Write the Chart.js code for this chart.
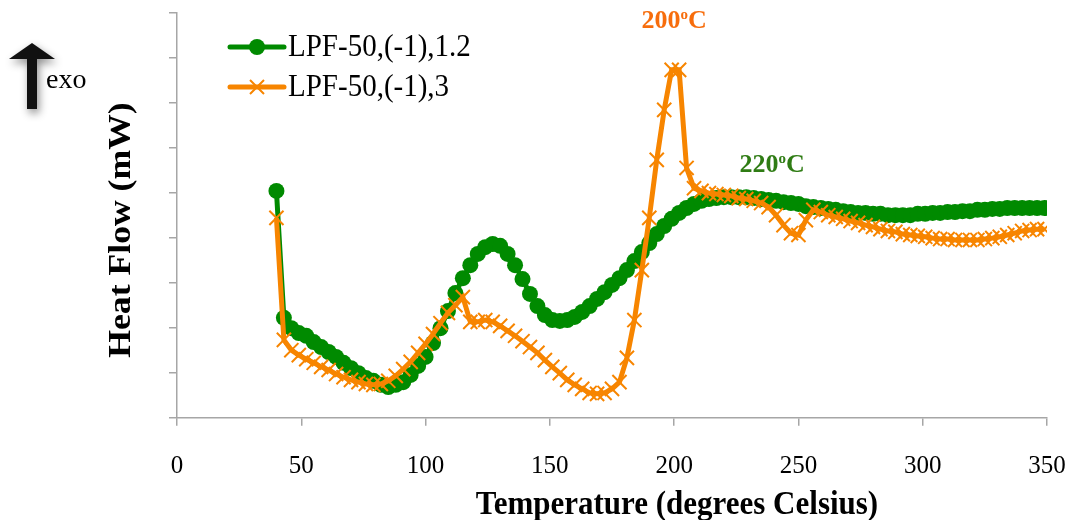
<!DOCTYPE html>
<html>
<head>
<meta charset="utf-8">
<script src="https://cdn.jsdelivr.net/npm/chart.js@4.4.1/dist/chart.umd.min.js"></script>
<style>
  html, body { margin: 0; padding: 0; background: #ffffff; }
  #wrap { width: 1070px; height: 520px; }
</style>
</head>
<body>
<div id="wrap"><canvas id="dsc" width="1070" height="520"></canvas></div>
<script>
// temperature (degrees Celsius)
const temps = [40, 43, 46, 49, 52, 55, 58, 61, 64, 67, 70, 73, 76, 79, 82, 85, 88, 91, 94, 97,
  100, 103, 106, 109, 112, 115, 118, 121, 124, 127, 130, 133, 136, 139, 142, 145, 148, 151, 154, 157,
  160, 163, 166, 169, 172, 175, 178, 181, 184, 187, 190, 193, 196, 199, 202, 205, 208, 211, 214, 217,
  220, 223, 226, 229, 232, 235, 238, 241, 244, 247, 250, 253, 256, 259, 262, 265, 268, 271, 274, 277,
  280, 283, 286, 289, 292, 295, 298, 301, 304, 307, 310, 313, 316, 319, 322, 325, 328, 331, 334, 337,
  340, 343, 346, 349];

// heat flow, LPF-50,(-1),1.2
const flow12 = [5.04, 2.22, 1.99, 1.88, 1.82, 1.68, 1.57, 1.46, 1.35, 1.22,
  1.10, 0.99, 0.88, 0.82, 0.73, 0.68, 0.73, 0.79, 0.95, 1.15,
  1.35, 1.66, 1.99, 2.37, 2.77, 3.10, 3.39, 3.64, 3.79, 3.86,
  3.82, 3.64, 3.39, 3.08, 2.75, 2.48, 2.28, 2.17, 2.15, 2.17,
  2.24, 2.35, 2.48, 2.64, 2.79, 2.95, 3.10, 3.28, 3.48, 3.68,
  3.88, 4.08, 4.26, 4.42, 4.55, 4.66, 4.75, 4.82, 4.86, 4.88,
  4.90, 4.90, 4.90, 4.90, 4.88, 4.86, 4.84, 4.82, 4.79, 4.77,
  4.75, 4.70, 4.68, 4.66, 4.64, 4.62, 4.59, 4.57, 4.55, 4.55,
  4.53, 4.53, 4.50, 4.50, 4.50, 4.50, 4.53, 4.53, 4.55, 4.55,
  4.57, 4.57, 4.59, 4.59, 4.62, 4.62, 4.64, 4.64, 4.66, 4.66,
  4.66, 4.66, 4.66, 4.66];

// heat flow, LPF-50,(-1),3
const flow3 = [4.44, 1.73, 1.50, 1.39, 1.30, 1.22, 1.13, 1.06, 0.97, 0.90,
  0.84, 0.79, 0.75, 0.73, 0.75, 0.82, 0.93, 1.08, 1.24, 1.44,
  1.64, 1.86, 2.10, 2.33, 2.50, 2.68, 2.13, 2.13, 2.17, 2.13,
  2.04, 1.93, 1.82, 1.70, 1.57, 1.44, 1.28, 1.13, 0.99, 0.84,
  0.73, 0.64, 0.55, 0.53, 0.55, 0.64, 0.79, 1.33, 2.17, 3.28,
  4.44, 5.73, 6.84, 7.73, 7.73, 5.55, 5.10, 5.04, 4.99, 4.97,
  4.95, 4.93, 4.88, 4.86, 4.82, 4.77, 4.68, 4.50, 4.28, 4.10,
  4.06, 4.39, 4.62, 4.57, 4.50, 4.46, 4.42, 4.37, 4.33, 4.28,
  4.24, 4.19, 4.15, 4.13, 4.08, 4.06, 4.04, 4.02, 3.99, 3.97,
  3.97, 3.95, 3.95, 3.95, 3.95, 3.97, 3.99, 4.02, 4.06, 4.10,
  4.15, 4.17, 4.19, 4.19];

const seriesNames = ['LPF-50,(-1),1.2', 'LPF-50,(-1),3'];
const xTitle = 'Temperature (degrees Celsius)';
const yTitle = 'Heat Flow (mW)';
// peak labels: [temperature, heat flow] where the text sits
const peakLabels = [
  { text: '200', at: [200, 8.82], color: '#f76d0c' },
  { text: '220', at: [239.4, 5.62], color: '#2f7c14' }
];

const GREEN = '#008a00';
const ORANGE = '#f78500';
const AXIS = '#a6a6a6';
const SERIF = '"Liberation Serif", "Times New Roman", serif';

function toPoints(ys) {
  return temps.map((t, i) => ({ x: t, y: ys[i] }));
}

function drawCircle(ctx, x, y) {
  ctx.fillStyle = GREEN;
  ctx.beginPath();
  ctx.arc(x, y, 8, 0, Math.PI * 2);
  ctx.fill();
}

function drawCross(ctx, x, y) {
  ctx.strokeStyle = ORANGE;
  ctx.lineWidth = 2;
  ctx.beginPath();
  ctx.moveTo(x - 7, y - 7); ctx.lineTo(x + 7, y + 7);
  ctx.moveTo(x + 7, y - 7); ctx.lineTo(x - 7, y + 7);
  ctx.stroke();
}

const extras = {
  id: 'extras',
  afterDraw(chart) {
    const ctx = chart.ctx;
    const xs = chart.scales.x;
    const ys = chart.scales.y;
    ctx.save();

    // axis titles (the source picture is a little stretched upright)
    ctx.fillStyle = '#000';
    ctx.font = 'bold 31px ' + SERIF;
    ctx.textAlign = 'center';
    ctx.textBaseline = 'middle';
    ctx.save();
    ctx.translate(677, 505);
    ctx.scale(1, 1.12);
    ctx.fillText(xTitle, 0, 0);
    ctx.restore();
    ctx.save();
    ctx.translate(122, 230);
    ctx.rotate(-Math.PI / 2);
    ctx.scale(1.15, 1);
    ctx.fillText(yTitle, 0, 0);
    ctx.restore();

    // legend, inside the plot
    const rows = [47, 87];
    rows.forEach((ry, i) => {
      ctx.strokeStyle = i === 0 ? GREEN : ORANGE;
      ctx.lineWidth = 5;
      ctx.lineCap = 'round';
      ctx.beginPath();
      ctx.moveTo(230, ry); ctx.lineTo(284, ry);
      ctx.stroke();
      ctx.lineCap = 'butt';
      if (i === 0) drawCircle(ctx, 257, ry); else drawCross(ctx, 257, ry);
      ctx.fillStyle = '#000';
      ctx.font = '29px ' + SERIF;
      ctx.textAlign = 'left';
      ctx.textBaseline = 'middle';
      ctx.save();
      ctx.translate(288, ry + 1);
      ctx.scale(1, 1.08);
      ctx.fillText(seriesNames[i], 0, 0);
      ctx.restore();
    });

    // exo arrow
    ctx.save();
    ctx.shadowColor = 'rgba(0,0,0,0.45)';
    ctx.shadowBlur = 8;
    ctx.shadowOffsetX = 2;
    ctx.shadowOffsetY = 4;
    ctx.fillStyle = '#111';
    ctx.beginPath();
    ctx.moveTo(32, 43);
    ctx.lineTo(55, 59);
    ctx.lineTo(37, 59);
    ctx.lineTo(37, 109);
    ctx.lineTo(27, 109);
    ctx.lineTo(27, 59);
    ctx.lineTo(9, 59);
    ctx.closePath();
    ctx.fill();
    ctx.restore();
    ctx.fillStyle = '#000';
    ctx.font = '28px ' + SERIF;
    ctx.textAlign = 'left';
    ctx.textBaseline = 'alphabetic';
    ctx.fillText('exo', 46, 88);

    // peak temperature labels with superscript o
    peakLabels.forEach(p => {
      const cx = xs.getPixelForValue(p.at[0]);
      const cy = ys.getPixelForValue(p.at[1]);
      const big = 'bold 26px ' + SERIF;
      const small = 'bold 15px ' + SERIF;
      ctx.font = big;
      const w1 = ctx.measureText(p.text).width;
      const w3 = ctx.measureText('C').width;
      ctx.font = small;
      const w2 = ctx.measureText('o').width;
      const total = w1 + w2 + w3;
      let x = cx - total / 2;
      ctx.fillStyle = p.color;
      ctx.textAlign = 'left';
      ctx.textBaseline = 'middle';
      ctx.font = big;
      ctx.fillText(p.text, x, cy);
      x += w1;
      ctx.font = small;
      ctx.fillText('o', x, cy - 6);
      x += w2;
      ctx.font = big;
      ctx.fillText('C', x, cy);
    });

    ctx.restore();
  }
};

new Chart(document.getElementById('dsc').getContext('2d'), {
  type: 'line',
  data: {
    datasets: [
      {
        label: seriesNames[0],
        data: toPoints(flow12),
        borderColor: GREEN,
        backgroundColor: GREEN,
        borderWidth: 5,
        pointStyle: 'circle',
        pointRadius: 8,
        pointBorderWidth: 0,
        pointBackgroundColor: GREEN,
        tension: 0,
        order: 2
      },
      {
        label: seriesNames[1],
        data: toPoints(flow3),
        borderColor: ORANGE,
        backgroundColor: ORANGE,
        borderWidth: 5,
        pointStyle: 'crossRot',
        pointRadius: 10,
        pointBorderWidth: 2,
        pointBorderColor: ORANGE,
        tension: 0,
        order: 1
      }
    ]
  },
  options: {
    responsive: false,
    animation: false,
    layout: { padding: { top: 12.7, right: 23, left: 0, bottom: 0 } },
    plugins: {
      legend: { display: false },
      tooltip: { enabled: false }
    },
    scales: {
      x: {
        type: 'linear',
        min: 0,
        max: 350,
        afterFit: s => {
          s.height = 102.3;
          s.paddingLeft = 0;
          s.paddingRight = 0;
        },
        ticks: {
          stepSize: 50,
          color: '#000',
          padding: 26,
          maxRotation: 0,
          font: { family: SERIF, size: 25 }
        },
        grid: {
          drawOnChartArea: false,
          drawTicks: true,
          tickLength: 8,
          color: AXIS,
          lineWidth: 1.5
        },
        border: { color: AXIS, width: 1.5 }
      },
      y: {
        min: 0,
        max: 9,
        afterFit: s => { s.width = 177; },
        ticks: { stepSize: 1, display: false },
        grid: {
          drawOnChartArea: false,
          drawTicks: true,
          tickLength: 8,
          color: AXIS,
          lineWidth: 1.5
        },
        border: { color: AXIS, width: 1.5 }
      }
    }
  },
  plugins: [extras]
});
</script>
</body>
</html>
